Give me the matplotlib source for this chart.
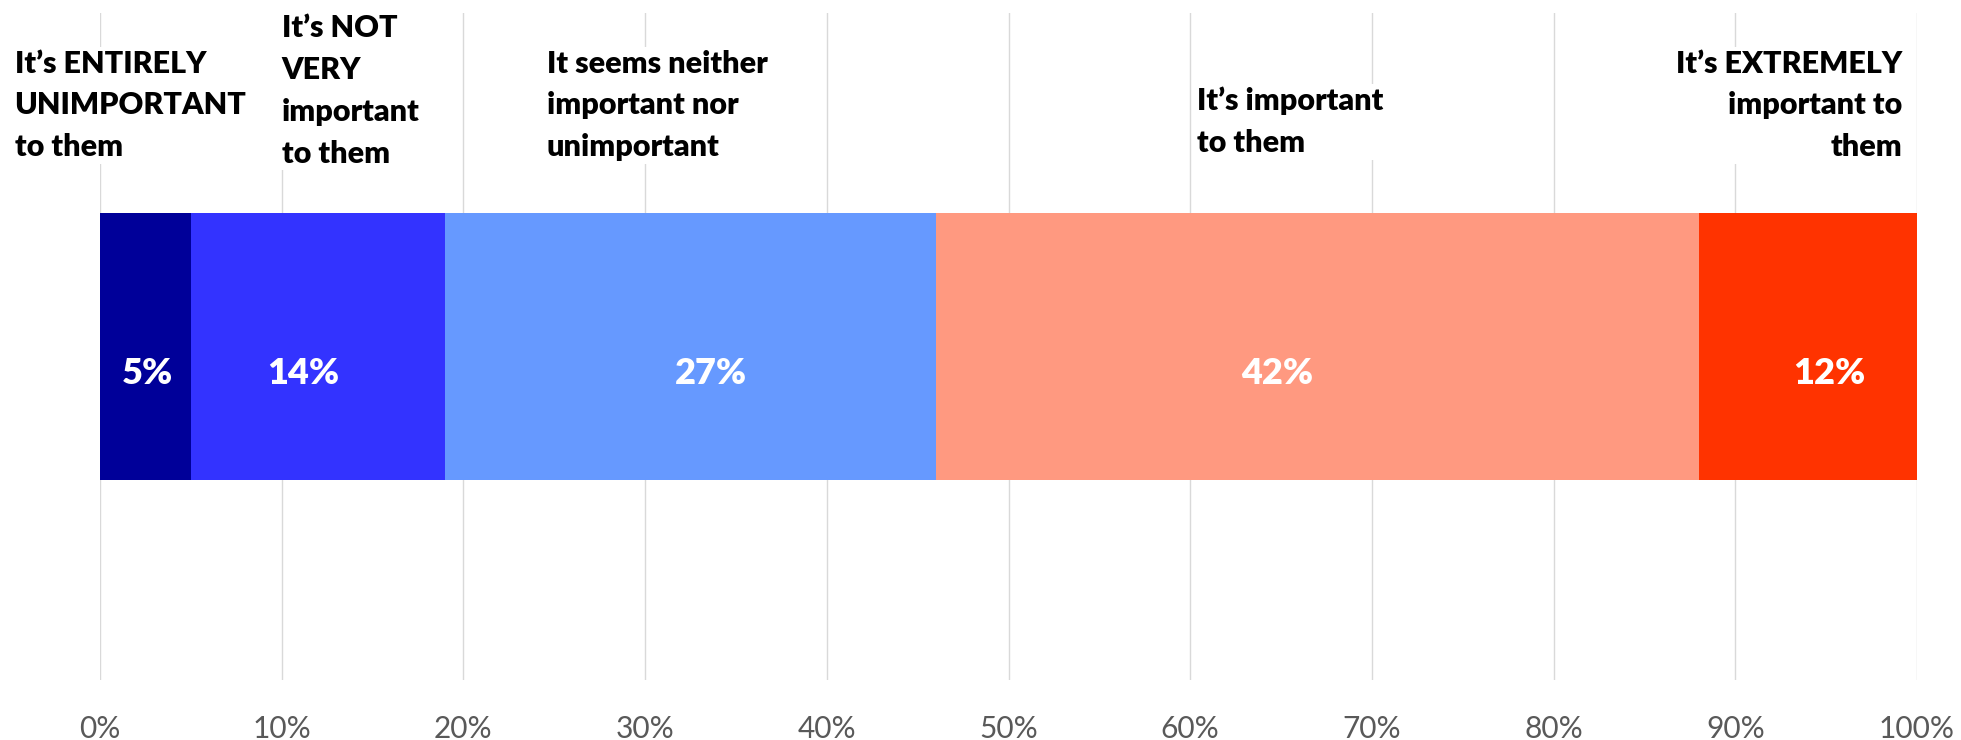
import matplotlib
matplotlib.use('Agg')
from matplotlib import pyplot as plt
import numpy as np

# data
categories = ["It\u2019s ENTIRELY\nUNIMPORTANT\nto them",
              "It\u2019s NOT\nVERY\nimportant\nto them",
              "It seems neither\nimportant nor\nunimportant",
              "It\u2019s important\nto them",
              "It\u2019s EXTREMELY\nimportant to\nthem"]
shares = [5, 14, 27, 42, 12]
tick_values = [0, 10, 20, 30, 40, 50, 60, 70, 80, 90, 100]

# styling / layout
colors = ['#000099', '#3333FF', '#6699FF', '#FF9980', '#FF3300']
value_nudge = [0.1, -0.8, 1.1, -2.2, 1.2]          # manual label shifts, in % units
cat_x = [-4.7, 10.0, 24.6, 60.4, 99.2]             # where the category captions sit
cat_y = [0.945, 0.998, 0.945, 0.89, 0.945]
cat_ha = ['left', 'left', 'left', 'left', 'right']

plt.rcParams['font.family'] = ['Lato', 'DejaVu Sans']

fig = plt.figure(figsize=(19.61, 7.40), dpi=100)
ax = fig.add_axes([100/1961, 60/740, 1817/1961, 667/740])

lefts = np.concatenate([[0], np.cumsum(shares)[:-1]])
ax.barh(0, shares, left=lefts, height=0.4, color=colors, zorder=2)

for left, val, nudge in zip(lefts, shares, value_nudge):
    ax.text(left + val/2 + nudge, -0.04, f'{val}%', ha='center', va='center',
            color='white', fontsize=26, fontweight='heavy', zorder=3)

xt = ax.get_xaxis_transform()
for label, x, y, ha in zip(categories, cat_x, cat_y, cat_ha):
    ax.text(x, y, label, transform=xt, ha=ha, va='top', multialignment=ha,
            fontsize=22, fontweight='heavy', color='black', linespacing=1.6,
            bbox=dict(facecolor='white', edgecolor='none', pad=2),
            zorder=4, clip_on=False)

ax.set_xlim(0, 100)
ax.set_ylim(-0.5, 0.5)
ax.set_xticks(tick_values)
ax.set_xticklabels([f'{t}%' for t in tick_values])
ax.set_yticks([])
ax.tick_params(axis='x', length=0, pad=25, labelsize=21.5, labelcolor='#595959')
ax.grid(axis='x', color='#D9D9D9', linewidth=1.0, zorder=0)
ax.set_axisbelow(True)
for s in ax.spines.values():
    s.set_visible(False)

fig.savefig('out.png', dpi=100, facecolor='white')
